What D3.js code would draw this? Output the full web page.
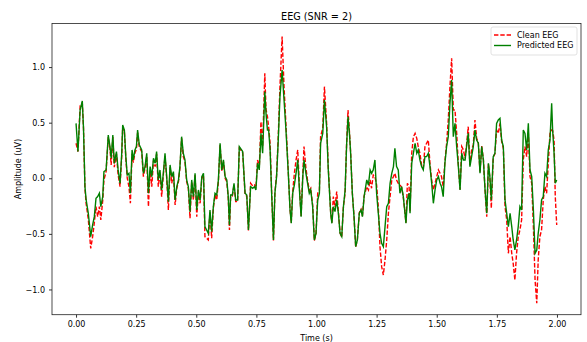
<!DOCTYPE html>
<html>
<head>
<meta charset="utf-8">
<script src="https://cdn.jsdelivr.net/npm/d3@7"></script>
<style>
  body { margin: 0; background: #fff; }
  text { font-family: "DejaVu Sans", sans-serif; fill: #000; }
</style>
</head>
<body>
<script>
// samples (time in s, amplitude in uV)
const time = [
  0.000, 0.008, 0.017, 0.026, 0.031, 0.037, 0.042, 0.051, 0.061, 0.069, 0.076, 0.083, 0.090, 0.097, 0.103, 0.111,
  0.116, 0.125, 0.134, 0.141, 0.146, 0.153, 0.159, 0.168, 0.175, 0.183, 0.190, 0.194, 0.201, 0.207, 0.213, 0.220,
  0.226, 0.233, 0.238, 0.245, 0.251, 0.256, 0.263,
  0.273, 0.280, 0.287, 0.294, 0.301, 0.308, 0.315, 0.322, 0.329, 0.335, 0.342, 0.349, 0.356, 0.363, 0.370, 0.377,
  0.384, 0.391, 0.398, 0.405, 0.412, 0.419, 0.426, 0.432, 0.439, 0.446, 0.453, 0.460, 0.467, 0.474, 0.481, 0.488,
  0.495, 0.502, 0.509, 0.516, 0.523, 0.530, 0.536, 0.543, 0.550, 0.557, 0.564, 0.571, 0.578, 0.585, 0.592, 0.599,
  0.606, 0.613, 0.620, 0.627, 0.633, 0.638, 0.643, 0.650, 0.657, 0.664, 0.672, 0.679,
  0.693, 0.703, 0.710, 0.717, 0.726, 0.735, 0.742, 0.748, 0.755, 0.762, 0.769, 0.776, 0.785, 0.790, 0.796, 0.801,
  0.807, 0.814, 0.821, 0.827, 0.834, 0.841, 0.848, 0.857, 0.865, 0.873, 0.882, 0.890, 0.895, 0.901, 0.908, 0.915,
  0.922, 0.929, 0.936, 0.943, 0.948, 0.956, 0.963, 0.970, 0.976, 0.984, 0.991, 0.998, 1.005, 1.012, 1.017, 1.026,
  1.033, 1.042, 1.049, 1.059, 1.064, 1.070, 1.077, 1.084, 1.091, 1.098, 1.105, 1.112, 1.119, 1.125, 1.131, 1.137,
  1.142, 1.149, 1.156, 1.163, 1.170, 1.178, 1.185, 1.191, 1.198, 1.209, 1.216, 1.223, 1.229, 1.236, 1.243, 1.250,
  1.257, 1.264, 1.271, 1.278, 1.285, 1.292, 1.299, 1.306, 1.313, 1.320, 1.326, 1.333, 1.340, 1.347, 1.354, 1.361,
  1.368, 1.372, 1.378, 1.385, 1.389, 1.396, 1.403, 1.410, 1.417, 1.423,
  1.430, 1.437, 1.444, 1.451, 1.458, 1.465, 1.472, 1.479, 1.486, 1.493, 1.500, 1.507, 1.514, 1.520, 1.527, 1.534,
  1.541, 1.548, 1.555, 1.562, 1.569, 1.576, 1.583, 1.590, 1.597, 1.604, 1.611, 1.618, 1.624, 1.631, 1.638, 1.645,
  1.652, 1.659, 1.666, 1.673, 1.680, 1.687, 1.694, 1.701, 1.708, 1.715, 1.721, 1.727,
  1.735, 1.742, 1.749, 1.756, 1.763, 1.770, 1.777, 1.784, 1.791, 1.798, 1.805, 1.812, 1.818, 1.825, 1.832, 1.839,
  1.846, 1.853, 1.860, 1.867, 1.874, 1.881, 1.888, 1.895, 1.902, 1.909, 1.916, 1.922, 1.929, 1.936, 1.943, 1.950,
  1.957, 1.964, 1.971, 1.978, 1.982, 1.988, 1.993, 1.999
];

const cleanEEG = [
  0.315, 0.240, 0.650, 0.680, 0.450, -0.090, -0.230, -0.370, -0.630, -0.525, -0.400, -0.255, -0.345, -0.255, -0.375, -0.200,
  -0.015, 0.060, 0.370, 0.270, 0.120, 0.370, 0.100, 0.220, 0.030, -0.075, 0.200, 0.460, 0.420, 0.180, 0.000, -0.075,
  -0.225, 0.220, 0.140, 0.230, 0.260, 0.410, 0.280,
  0.240, 0.015, 0.090, 0.200, -0.255, 0.070, -0.075, 0.160, 0.105, 0.220, -0.075, 0.050, -0.165, 0.030, 0.200, 0.000,
  -0.285, 0.100, -0.045, 0.040, -0.240, -0.090, -0.030, 0.090, 0.360, 0.195, 0.150, -0.030, -0.090, -0.360, -0.030, -0.195,
  0.030, -0.345, -0.120, -0.225, 0.000, 0.030, -0.525, -0.540, -0.555, -0.300, -0.540, -0.270, -0.150, -0.195, -0.030, 0.300,
  0.060, 0.150, 0.000, -0.030, -0.180, -0.465, -0.160, -0.160, -0.060, -0.210, -0.210, 0.270,
  0.230, -0.150, -0.160, -0.470, -0.045, -0.070, -0.060, -0.090, 0.165, 0.090, 0.509, 0.285, 0.944, 0.620, 0.554, 0.460,
  0.315, -0.160, -0.560, -0.130, 0.030, 0.380, 0.824, 1.274, 0.824, 0.480, 0.090, -0.280, -0.400, -0.120, 0.045, 0.165,
  0.255, -0.080, -0.340, 0.040, 0.285, 0.090, -0.020, -0.110, -0.090, -0.240, -0.560, -0.500, -0.135, -0.110, 0.374, 0.450,
  0.824, 0.500, 0.100, -0.310, -0.400, -0.165, -0.260, -0.120, -0.300, -0.490, -0.530, -0.250, -0.135, 0.300, 0.614, 0.420,
  0.230, -0.130, -0.340, -0.620, -0.550, -0.310, -0.280, -0.340, -0.160, -0.075, -0.105, -0.015, -0.090, 0.030, 0.015, -0.060,
  -0.255, -0.615, -0.795, -0.870, -0.735, -0.555, -0.315, -0.165, -0.015, 0.015, 0.045, -0.015, -0.045, -0.060, -0.080, -0.170,
  -0.310, -0.400, -0.045, -0.075, -0.300, 0.225, 0.374, 0.404, 0.359, 0.285,
  0.225, 0.120, 0.090, 0.285, 0.315, 0.344, 0.130, -0.020, -0.105, -0.045, 0.015, 0.075, 0.045, 0.015, -0.075, 0.150,
  0.310, 0.524, 0.824, 1.079, 0.614, 0.614, 0.404, 0.120, -0.100, 0.285, 0.255, 0.180, 0.300, 0.464, 0.120, 0.255,
  0.300, 0.524, 0.360, 0.320, 0.050, 0.290, 0.170, -0.110, -0.345, 0.130, 0.000, -0.270,
  0.190, 0.220, 0.434, 0.404, 0.494, 0.330, 0.270, -0.255, -0.375, -0.675, -0.525, -0.675, -0.765, -0.915, -0.675, -0.525,
  -0.465, -0.375, 0.165, 0.285, 0.195, 0.404, 0.015, -0.045, -0.435, -0.915, -1.124, -0.735, -0.525, -0.465, -0.195, -0.075,
  -0.135, 0.135, 0.404, 0.434, 0.430, 0.344, -0.165, -0.420
];

const predictedEEG = [
  0.494, 0.240, 0.614, 0.695, 0.450, -0.075, -0.195, -0.315, -0.525, -0.420, -0.345, -0.180, -0.165, -0.135, -0.255, -0.165,
  0.060, 0.075, 0.389, 0.285, 0.180, 0.389, 0.135, 0.240, 0.075, -0.045, 0.225, 0.479, 0.434, 0.195, 0.030, 0.045,
  -0.135, 0.255, 0.165, 0.255, 0.285, 0.434, 0.300,
  0.255, 0.045, 0.105, 0.225, -0.135, 0.105, 0.015, 0.180, 0.135, 0.240, -0.015, 0.075, -0.105, 0.045, 0.225, 0.015,
  -0.210, 0.120, 0.015, 0.060, -0.195, -0.075, -0.015, 0.105, 0.374, 0.225, 0.165, -0.015, -0.075, -0.300, -0.015, -0.165,
  0.045, -0.285, -0.105, -0.195, 0.015, 0.045, -0.435, -0.465, -0.495, -0.285, -0.480, -0.255, -0.135, -0.150, -0.015, 0.315,
  0.075, 0.165, 0.015, -0.015, -0.165, -0.420, -0.150, -0.150, -0.045, -0.195, -0.195, 0.285,
  0.240, -0.135, -0.150, -0.465, -0.075, -0.090, -0.075, -0.105, 0.135, 0.075, 0.404, 0.225, 0.779, 0.584, 0.434, 0.434,
  0.255, -0.165, -0.555, -0.135, 0.015, 0.344, 0.734, 0.974, 0.704, 0.434, 0.075, -0.285, -0.405, -0.135, -0.060, 0.045,
  0.165, -0.105, -0.345, 0.015, 0.165, 0.045, -0.045, -0.135, -0.105, -0.255, -0.555, -0.495, -0.195, -0.135, 0.315, 0.404,
  0.704, 0.464, 0.075, -0.315, -0.405, -0.255, -0.300, -0.195, -0.315, -0.495, -0.525, -0.255, -0.105, 0.285, 0.554, 0.404,
  0.225, -0.135, -0.345, -0.615, -0.555, -0.315, -0.285, -0.345, -0.165, -0.015, -0.060, 0.075, 0.045, 0.075, 0.165, -0.135,
  -0.315, -0.495, -0.585, -0.615, -0.435, -0.255, -0.225, -0.045, 0.045, 0.105, 0.270, 0.105, 0.075, -0.135, -0.075, -0.165,
  -0.315, -0.405, -0.195, -0.135, -0.315, 0.135, 0.225, 0.315, 0.225, 0.255,
  0.165, 0.105, 0.075, 0.195, 0.195, 0.225, 0.105, -0.045, -0.225, -0.105, -0.015, 0.015, -0.045, -0.075, -0.165, 0.135,
  0.285, 0.374, 0.674, 0.884, 0.374, 0.494, 0.285, 0.105, -0.105, 0.225, 0.165, 0.165, 0.285, 0.404, 0.105, 0.195,
  0.285, 0.434, 0.344, 0.315, 0.045, 0.285, 0.165, -0.105, -0.315, 0.135, 0.015, -0.195,
  0.195, 0.225, 0.494, 0.524, 0.539, 0.344, 0.285, -0.195, -0.315, -0.435, -0.315, -0.435, -0.555, -0.645, -0.555, -0.435,
  -0.255, -0.285, 0.434, 0.404, 0.255, 0.494, 0.075, 0.015, -0.285, -0.675, -0.645, -0.495, -0.375, -0.195, -0.165, 0.045,
  0.015, 0.255, 0.344, 0.674, 0.434, 0.225, -0.045, -0.015
];

const xTicks = [0, 0.25, 0.5, 0.75, 1.0, 1.25, 1.5, 1.75, 2.0];
const yTicks = [-1.0, -0.5, 0.0, 0.5, 1.0];

const width = 587, height = 342;
const margin = {top: 23.5, right: 6, bottom: 27.3, left: 52};

const svg = d3.select("body").append("svg")
  .attr("width", width)
  .attr("height", height);

const x = d3.scaleLinear()
  .domain([-0.1, 2.1])
  .range([margin.left, width - margin.right]);

const y = d3.scaleLinear()
  .domain([-1.227, 1.392])
  .range([height - margin.bottom, margin.top]);

// axes
const xAxis = svg.append("g")
  .attr("transform", "translate(0," + (height - margin.bottom) + ")")
  .call(d3.axisBottom(x).tickValues(xTicks).tickFormat(d3.format(".2f")).tickSize(3).tickPadding(4));

const yAxis = svg.append("g")
  .attr("transform", "translate(" + margin.left + ",0)")
  .call(d3.axisLeft(y).tickValues(yTicks).tickFormat(d3.format(".1f")).tickSize(3).tickPadding(4));

[xAxis, yAxis].forEach(g => {
  g.select(".domain").remove();
  g.selectAll("line").attr("stroke", "#000").attr("stroke-width", 0.8);
  g.selectAll("text").style("font-family", "DejaVu Sans").style("font-size", "8px").attr("fill", "#222");
});

// lines
svg.append("clipPath").attr("id", "plot-clip")
  .append("rect")
  .attr("x", margin.left).attr("y", margin.top)
  .attr("width", width - margin.left - margin.right)
  .attr("height", height - margin.top - margin.bottom);

const line = d3.line()
  .x(d => x(d[0]))
  .y(d => y(d[1]));

const plot = svg.append("g").attr("clip-path", "url(#plot-clip)");

plot.append("path")
  .datum(time.map((t, i) => [t, cleanEEG[i]]))
  .attr("d", line)
  .attr("fill", "none")
  .attr("stroke", "#ff0000")
  .attr("stroke-width", 1.4)
  .attr("stroke-dasharray", "4.4,1.9");

plot.append("path")
  .datum(time.map((t, i) => [t, predictedEEG[i]]))
  .attr("d", line)
  .attr("fill", "none")
  .attr("stroke", "#008000")
  .attr("stroke-width", 1.4);

// frame
svg.append("rect")
  .attr("x", margin.left).attr("y", margin.top)
  .attr("width", width - margin.left - margin.right)
  .attr("height", height - margin.top - margin.bottom)
  .attr("fill", "none")
  .attr("stroke", "#222")
  .attr("stroke-width", 0.8);

// title and axis labels
svg.append("text")
  .attr("x", (margin.left + width - margin.right) / 2)
  .attr("y", 16)
  .attr("text-anchor", "middle")
  .attr("dominant-baseline", "central")
  .style("font-size", "9.7px")
  .text("EEG (SNR = 2)");

svg.append("text")
  .attr("x", (margin.left + width - margin.right) / 2)
  .attr("y", 338.5)
  .attr("text-anchor", "middle")
  .attr("dominant-baseline", "central")
  .style("font-size", "8px")
  .text("Time (s)");

svg.append("text")
  .attr("transform", "translate(18.5," + ((margin.top + height - margin.bottom) / 2) + ") rotate(-90)")
  .attr("text-anchor", "middle")
  .attr("dominant-baseline", "central")
  .style("font-size", "8px")
  .text("Amplitude (uV)");

// legend
const legend = svg.append("g");
legend.append("rect")
  .attr("x", 491).attr("y", 27)
  .attr("width", 86).attr("height", 28)
  .attr("rx", 2)
  .attr("fill", "#fff").attr("fill-opacity", 0.8)
  .attr("stroke", "#d9d9d9").attr("stroke-width", 0.8);

const legendItems = [
  {name: "Clean EEG", color: "#ff0000", dash: "4.4,1.9"},
  {name: "Predicted EEG", color: "#008000", dash: null}
];

legendItems.forEach((d, i) => {
  const yy = 35 + i * 10.5;
  legend.append("line")
    .attr("x1", 494).attr("x2", 511)
    .attr("y1", yy).attr("y2", yy)
    .attr("stroke", d.color)
    .attr("stroke-width", 1.4)
    .attr("stroke-dasharray", d.dash);
  legend.append("text")
    .attr("x", 517).attr("y", yy)
    .attr("dominant-baseline", "central")
    .style("font-size", "8px")
    .text(d.name);
});
</script>
</body>
</html>
